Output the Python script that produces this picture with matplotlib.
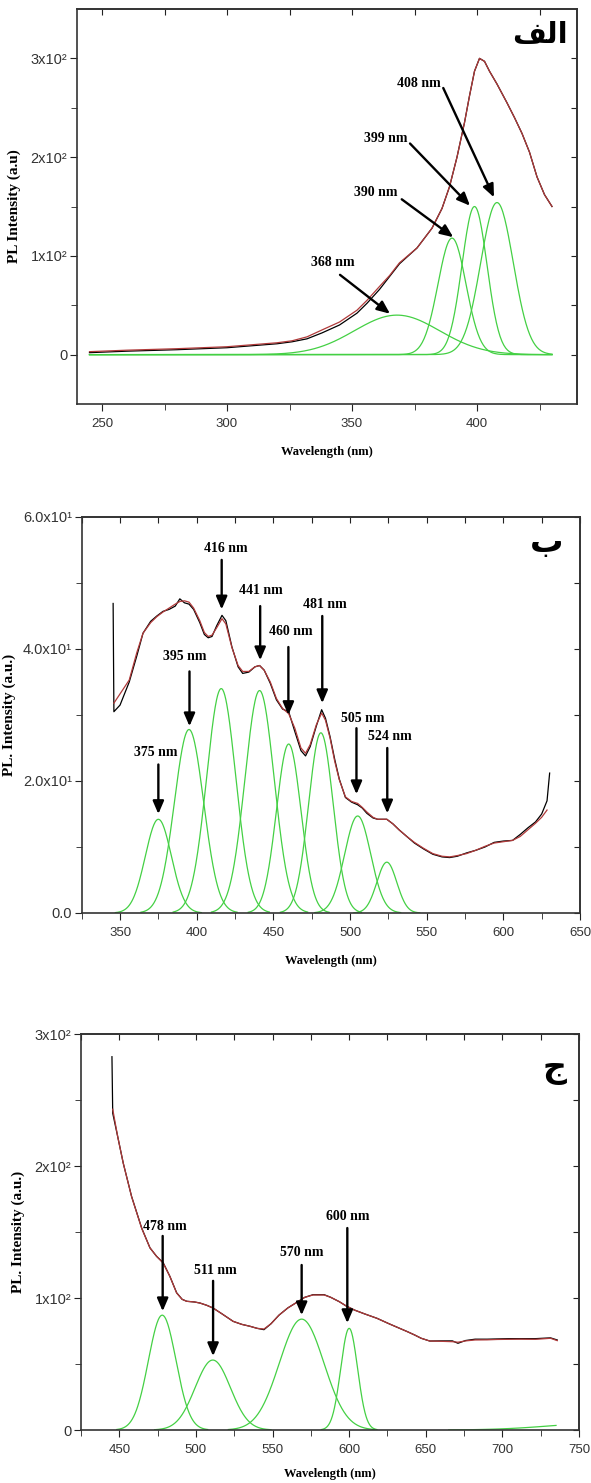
import numpy as np
import matplotlib
matplotlib.use('Agg')
import matplotlib.pyplot as plt

plt.rcParams['font.family'] = ['Liberation Sans Narrow', 'Liberation Sans', 'DejaVu Sans']

# ---- panel 1 (الف) data ----
p1_wl = [245, 260, 280, 300, 310, 320, 326, 332, 338, 345, 352, 356, 361, 365, 369,
         376, 382, 386, 389, 392, 395, 397, 399, 401, 403, 405, 408, 412, 415, 418,
         421, 424, 427, 430]
p1_fit = [3, 4.5, 6, 8, 10, 12, 14, 18, 25, 33, 45, 55, 69, 80, 93,
          108, 128, 148, 170, 200, 235, 262, 287, 300, 297, 287, 274, 255, 240, 224,
          205, 180, 162, 150]
p1_exp = [2, 3.5, 5, 7, 9, 11, 13, 16, 22, 30, 42, 52, 66, 79, 92,
          108, 128, 148, 170, 200, 235, 262, 287, 300, 297, 287, 274, 255, 240, 224,
          205, 180, 162, 150]
p1_centers = [368, 390, 399, 408]
p1_amps = [40, 118, 150, 154]
p1_sigmas = [17, 5.6, 5, 6.5]

# ---- panel 2 (ب) data ----
p2_wl = [346, 350, 356, 361, 365, 370, 374, 378, 382, 386, 389, 392, 395, 398, 402,
         405, 407.5, 410, 413, 416.5, 419, 423, 427, 430, 434, 438, 441, 444, 448, 452,
         456, 460, 464, 468, 471, 474, 478, 481.5, 484, 487, 490, 493, 497, 501, 505,
         508, 511, 515, 518, 524, 528, 532, 537, 542, 548, 554, 560, 565, 570, 576,
         582, 588, 594, 600, 606, 611, 616, 621, 625, 628.5]
p2_fit = [31.8, 33.2, 35.3, 39.5, 42.4, 44.0, 44.9, 45.6, 46.2, 46.8, 47.2, 47.3, 47.1, 46.2, 44.3,
          42.5, 41.9, 42.1, 43.2, 44.6, 43.8, 40.2, 37.5, 36.6, 36.6, 37.3, 37.5, 36.8, 35.0, 32.5,
          31.0, 30.2, 28.0, 25.0, 24.2, 25.5, 28.5, 30.3, 29.2, 26.5, 23.0, 20.2, 17.6, 16.9, 16.6,
          16.0, 15.3, 14.5, 14.2, 14.2, 13.5, 12.6, 11.6, 10.7, 9.8, 9.0, 8.6, 8.5, 8.7, 9.0,
          9.5, 10.1, 10.6, 10.8, 11.0, 11.6, 12.6, 13.6, 14.5, 15.6]
p2_exp = [30.5, 31.5, 35.0, 39.0, 42.4, 44.2, 45.0, 45.7, 46.0, 46.5, 47.6, 47.0, 46.8, 46.0, 44.0,
          42.2, 41.7, 41.9, 43.5, 45.1, 44.3, 40.3, 37.3, 36.3, 36.5, 37.3, 37.5, 36.8, 34.8, 32.3,
          30.9, 30.5, 27.5, 24.6, 23.8, 25.2, 28.3, 30.8, 29.5, 26.7, 23.3, 20.3, 17.5, 16.8, 16.4,
          15.9, 15.1, 14.4, 14.2, 14.2, 13.5, 12.6, 11.6, 10.6, 9.7, 8.9, 8.5, 8.4, 8.6, 9.1,
          9.5, 10.0, 10.7, 10.9, 11.0, 11.9, 12.9, 13.8, 15.0, 17.0]
p2_exp_start = (345.5, 46.9)
p2_exp_end = (630.2, 21.2)
p2_centers = [375, 395, 416, 441, 460, 481, 505, 524]
p2_amps = [14.2, 27.8, 34, 33.7, 25.6, 27.3, 14.7, 7.7]
p2_sigmas = [8.5, 9.5, 9.5, 9.5, 8, 8, 8.5, 6.5]

# ---- panel 3 (ج) data ----
p3_wl = [445.7, 449, 452.6, 458, 464.6, 470, 474.3, 478.6, 483, 487.4, 491, 494, 499, 502.6,
         507, 511.2, 517, 524.3, 530, 535.2, 540, 544.4, 549, 554.2, 560, 566.5, 571, 576.4,
         583.7, 588, 593.6, 598, 603.4, 610, 618.2, 626, 633, 638, 642.7, 647, 652.6, 660,
         667.4, 671, 676, 682.2, 690, 697, 704.3, 712, 721.5, 728, 731.4, 735.8]
p3_fit = [243, 222, 202, 176.8, 152.8, 138, 131.6, 126.5, 116.4, 103.8, 99, 97.5, 97, 96.2,
          94.5, 92.4, 88, 82.3, 80, 78.6, 77, 76.5, 80.5, 87, 92.5, 97.2, 100.5, 102.3,
          102.3, 100.5, 97.2, 94, 90.9, 88, 84.6, 80.5, 77, 74.5, 72, 69.5, 67.4, 67.2,
          66.9, 66.5, 67.5, 68.2, 68.3, 68.6, 68.7, 68.8, 68.7, 69.2, 69.5, 67.7]
p3_exp = [240, 222, 202, 177, 153, 138, 131.6, 126.8, 116.4, 104, 99, 97.5, 97, 96.2,
          94.5, 92.4, 88, 82.3, 80, 78.6, 77, 76, 80.5, 87, 92.5, 97.2, 100.5, 102.5,
          102.5, 100.5, 97.2, 94, 90.9, 88, 84.6, 80.5, 77, 74.5, 72, 69.5, 67.4, 67.5,
          67.5, 65.7, 67.8, 68.8, 68.8, 69.0, 69.2, 69.2, 69.2, 69.6, 69.8, 68.2]
p3_exp_start = (445.2, 282.8)
p3_centers = [478, 511, 569, 600]
p3_amps = [87, 53, 84, 77]
p3_sigmas = [9, 11.5, 14.5, 5.5]
p3_tail = (765, 5, 35)          # weak component beyond the range
p3_tail_range = (665, 735)

# annotations: label, text (x, y), arrow tail, arrow tip  (data coords)
p1_ann = [('408 nm', (376.8, 274.7), (386.5, 270), (406.8, 159.3)),
          ('399 nm', (363.4, 219.2), (373.2, 213.8), (397.2, 150.8)),
          ('390 nm', (359.5, 164.6), (369.9, 157.3), (390.5, 118.9)),
          ('368 nm', (342.4, 92.9), (345.2, 80.8), (365.2, 41.4))]
p2_ann = [('416 nm', (418.7, 55.2), (416.3, 53.5), (416.3, 46)),
          ('441 nm', (442.1, 48.9), (441.4, 46.5), (441.4, 38.3)),
          ('460 nm', (461.6, 42.6), (459.8, 40.3), (459.8, 30)),
          ('481 nm', (483.3, 46.7), (481.9, 45), (481.9, 31.8)),
          ('395 nm', (392.1, 38.9), (395.3, 36.6), (395.3, 28.3)),
          ('375 nm', (373.2, 24.3), (375, 22.5), (375, 15)),
          ('505 nm', (508.1, 29.5), (504.2, 28), (504.2, 18)),
          ('524 nm', (526.2, 26.7), (524.3, 25), (524.3, 15.1))]
p3_ann = [('478 nm', (479.8, 153.8), (478.3, 147), (478.3, 90)),
          ('511 nm', (513, 120.5), (511.2, 113), (511.2, 56)),
          ('570 nm', (569.1, 134.8), (569, 125), (569, 87)),
          ('600 nm', (599.4, 161.4), (598.8, 153), (598.8, 81))]

RED = '#b03a3a'
GREEN = '#44d044'
SERIF = ['Liberation Serif', 'DejaVu Serif']

W, H = 591, 1483
fig = plt.figure(figsize=(W / 100, H / 100), dpi=100)


def px_axes(l, t, r, b):
    return fig.add_axes([l / W, 1 - b / H, (r - l) / W, (b - t) / H])


def gauss(x, c, a, s):
    return a * np.exp(-0.5 * ((x - c) / s) ** 2)


def style(ax, xlim, ylim, xmaj, xmin, ymaj, ylabels, ymin, ylab, ylab_x, xlab_y):
    ax.set_xlim(xlim)
    ax.set_ylim(ylim)
    ax.set_xticks(xmaj)
    ax.set_xticks(xmin, minor=True)
    ax.set_yticks(ymaj, ylabels)
    ax.set_yticks(ymin, minor=True)
    ax.tick_params(which='both', direction='out', colors='#222', labelcolor='#333')
    ax.tick_params(axis='x', which='major', length=5, pad=5, labelsize=9.5)
    ax.tick_params(axis='x', which='minor', length=4)
    ax.tick_params(axis='y', which='major', length=5, pad=2, labelsize=10.5)
    ax.tick_params(axis='y', which='minor', length=4)
    for s in ax.spines.values():
        s.set_color('#333')
        s.set_linewidth(1.2)
    top = ax.secondary_xaxis('top')
    top.set_xticks(list(xmaj) + list(xmin))
    top.tick_params(direction='in', length=4, labeltop=False, colors='#222')
    top.spines['top'].set_color('#333')
    top.spines['top'].set_linewidth(1.2)
    right = ax.secondary_yaxis('right')
    right.set_yticks(list(ymaj) + list(ymin))
    right.tick_params(direction='in', length=4, labelright=False, colors='#222')
    right.spines['right'].set_color('#333')
    right.spines['right'].set_linewidth(1.2)
    ax.set_xlabel('Wavelength (nm)', family=SERIF, fontweight='bold', fontsize=9)
    ax.xaxis.set_label_coords(0.5, xlab_y)
    ax.set_ylabel(ylab, family=SERIF, fontweight='bold', fontsize=11)
    ax.yaxis.set_label_coords(ylab_x, 0.5)


def annotate(ax, items):
    for label, txy, tail, tip in items:
        ax.text(txy[0], txy[1], label, family=SERIF, fontweight='bold', fontsize=10,
                ha='center', va='center')
        ax.annotate('', xy=tip, xytext=tail,
                    arrowprops=dict(arrowstyle='-|>,head_length=0.7,head_width=0.3',
                                    lw=1.7, color='k', shrinkA=0, shrinkB=0,
                                    mutation_scale=11))


# ---- panel 1 ----
ax1 = px_axes(77, 9, 577, 404)
xg = np.linspace(p1_wl[0], p1_wl[-1], 500)
for c, a, s in zip(p1_centers, p1_amps, p1_sigmas):
    ax1.plot(xg, gauss(xg, c, a, s), color=GREEN, lw=0.9)
ax1.plot(p1_wl, p1_exp, color='k', lw=0.9)
ax1.plot(p1_wl, p1_fit, color=RED, lw=0.9)
style(ax1, (240, 440), (-50, 350), [250, 300, 350, 400], [275, 325, 375, 425],
      [0, 100, 200, 300], ['0', '1x10²', '2x10²', '3x10²'], [50, 150, 250],
      'PL Intensity (a.u)', -0.112, -0.106)
annotate(ax1, p1_ann)
ax1.text(0.925, 0.935, '\ufed2\ufedf\ufe8d', transform=ax1.transAxes, family=['DejaVu Sans'],
         fontweight='bold', fontsize=21, ha='center', va='center')

# ---- panel 2 ----
ax2 = px_axes(81.7, 517, 580, 913)
for c, a, s in zip(p2_centers, p2_amps, p2_sigmas):
    xg = np.linspace(c - 3.3 * s, c + 3.3 * s, 200)
    ax2.plot(xg, gauss(xg, c, a, s), color=GREEN, lw=0.9)
ax2.plot([p2_exp_start[0]] + p2_wl + [p2_exp_end[0]],
         [p2_exp_start[1]] + p2_exp + [p2_exp_end[1]], color='k', lw=0.9)
ax2.plot(p2_wl, p2_fit, color=RED, lw=0.9)
style(ax2, (325, 650), (0, 60), [350, 400, 450, 500, 550, 600, 650],
      [325, 375, 425, 475, 525, 575, 625],
      [0, 20, 40, 60], ['0.0', '2.0x10¹', '4.0x10¹', '6.0x10¹'], [10, 30, 50],
      'PL. Intensity (a.u.)', -0.132, -0.106)
annotate(ax2, p2_ann)
ax2.text(0.934, 0.936, '\u0628', transform=ax2.transAxes, family=['DejaVu Sans'],
         fontweight='bold', fontsize=24, ha='center', va='center')

# ---- panel 3 ----
ax3 = px_axes(81, 1034, 579, 1430)
for c, a, s in zip(p3_centers, p3_amps, p3_sigmas):
    xg = np.linspace(c - 3.3 * s, c + 3.3 * s, 200)
    ax3.plot(xg, gauss(xg, c, a, s), color=GREEN, lw=0.9)
xg = np.linspace(p3_tail_range[0], p3_tail_range[1], 100)
ax3.plot(xg, gauss(xg, *p3_tail), color=GREEN, lw=0.9)
ax3.plot([p3_exp_start[0]] + p3_wl, [p3_exp_start[1]] + p3_exp, color='k', lw=0.9)
ax3.plot(p3_wl, p3_fit, color=RED, lw=0.9)
style(ax3, (425, 750), (0, 300), [450, 500, 550, 600, 650, 700, 750],
      [425, 475, 525, 575, 625, 675, 725],
      [0, 100, 200, 300], ['0', '1x10²', '2x10²', '3x10²'], [50, 150, 250],
      'PL. Intensity (a.u.)', -0.112, -0.095)
annotate(ax3, p3_ann)
ax3.text(0.95, 0.914, '\u062c', transform=ax3.transAxes, family=['DejaVu Sans'],
         fontweight='bold', fontsize=24, ha='center', va='center')

fig.savefig('out.png', dpi=100)
